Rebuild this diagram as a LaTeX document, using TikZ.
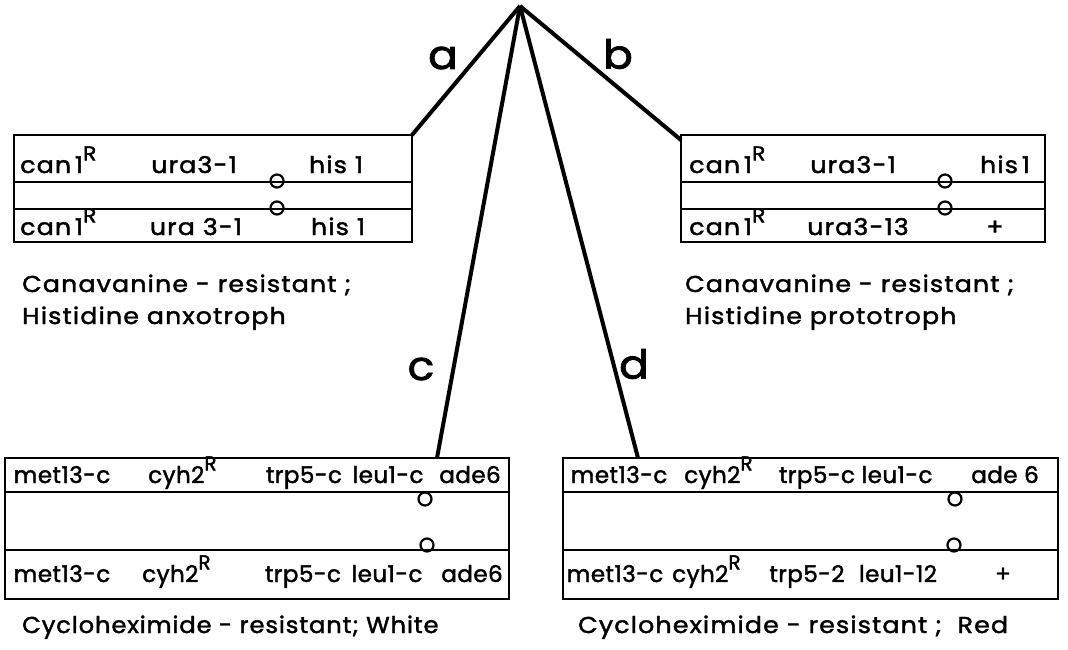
\documentclass[tikz,border=0pt]{standalone}
\usepackage{fontspec}
\setmainfont{Poppins}[FakeBold=1.8,FakeStretch=1.1,LetterSpace=5]
\newfontfamily\narrowfont{Poppins}[FakeBold=1.8,LetterSpace=2]
\newfontfamily\capfont{Poppins}[FakeBold=1.8,FakeStretch=1.05,LetterSpace=4]
\def\resR{\raisebox{0.55em}{\fontsize{20}{20}\selectfont R}}

\begin{document}
\begin{tikzpicture}[x=1pt,y=-1pt,
    chrom/.style={line width=2.3pt},
    arm/.style={line width=4pt},
    cen/.style={line width=2.2pt},
    gene/.style={anchor=base, inner sep=0pt, font=\fontsize{23}{27}\selectfont},
    genew/.style={gene, anchor=base west},
    ngene/.style={gene, font=\narrowfont\fontsize{23}{27}\selectfont},
    ngenew/.style={ngene, anchor=base west},
    caption/.style={anchor=base west, inner sep=0pt, font=\fontsize{23}{27}\selectfont},
    armlabel/.style={inner sep=0pt, font=\fontsize{40}{42}\selectfont}]
		%%%%% START %%%%%
		\useasboundingbox (0,0) rectangle (1068,650);
		
		\coordinate (apex) at (520,6);
		
		% top left: a
		\draw[chrom] (14,135) rectangle (412,242);
		\draw[chrom] (14,182) -- (412,182);
		\draw[chrom] (14,209) -- (412,209);
		\draw[cen] (277,181) circle (6.5pt);
		\draw[cen] (277,208) circle (6.5pt);
		\coordinate (boxa) at (412,135);
		\node[genew] (a1) at (20,173) {can\,1\resR};
		\node[gene] (a2) at (194,173) {ura3-1};
		\node[gene] (a3) at (336,173) {his 1};
		\node[genew] (a4) at (20,235) {can\,1\resR};
		\node[gene] (a5) at (196,235) {ura 3-1};
		\node[gene] (a6) at (338,235) {his 1};
		\node[caption] (capa1) at (22,292) {Canavanine - resistant ;};
		\node[caption] (capa2) at (22,324) {Histidine anxotroph};
		
		% top right: b
		\draw[chrom] (681,135) rectangle (1045,242);
		\draw[chrom] (681,182) -- (1045,182);
		\draw[chrom] (681,209) -- (1045,209);
		\draw[cen] (945,181) circle (6.5pt);
		\draw[cen] (945,208) circle (6.5pt);
		\coordinate (boxb) at (681,140);
		\node[genew] (b1) at (689,173) {can\,1\resR};
		\node[gene] (b2) at (853,173) {ura3-1};
		\node[gene] (b3) at (1005,173) {his\,1};
		\node[genew] (b4) at (689,235) {can\,1\resR};
		\node[gene] (b5) at (858,235) {ura3-13};
		\node[gene] (b6) at (995,235) {+};
		\node[caption] (capb1) at (685,292) {Canavanine - resistant ;};
		\node[caption] (capb2) at (685,324) {Histidine prototroph};
		
		% bottom left: c
		\draw[chrom] (5,458) rectangle (509,599);
		\draw[chrom] (5,492) -- (509,492);
		\draw[chrom] (5,550) -- (509,550);
		\draw[cen] (425,499) circle (6.5pt);
		\draw[cen] (427,545) circle (6.5pt);
		\coordinate (boxc) at (437,458);
		\node[ngene] (c1) at (62,483) {met13-c};
		\node[ngenew] (c2) at (148,483) {cyh2\resR};
		\node[ngene] (c3) at (304,483) {trp5-c};
		\node[ngene] (c4) at (388,483) {leu1-c};
		\node[ngene] (c5) at (470,483) {ade6};
		\node[ngene] (c6) at (62,582) {met13-c};
		\node[ngenew] (c7) at (142,582) {cyh2\resR};
		\node[ngene] (c8) at (303,582) {trp5-c};
		\node[ngene] (c9) at (387,582) {leu1-c};
		\node[ngene] (c10) at (472,582) {ade6};
		\node[caption, font=\capfont\fontsize{23}{27}\selectfont] (capc) at (22,633) {Cycloheximide - resistant;\ White};
		
		% bottom right: d
		\draw[chrom] (563,458) rectangle (1058,599);
		\draw[chrom] (563,492) -- (1058,492);
		\draw[chrom] (563,550) -- (1058,550);
		\draw[cen] (955,499) circle (6.5pt);
		\draw[cen] (954,545) circle (6.5pt);
		\coordinate (boxd) at (638,458);
		\node[ngene] (d1) at (619,483) {met13-c};
		\node[ngenew] (d2) at (684,483) {cyh2\resR};
		\node[ngene] (d3) at (817,483) {trp5-c};
		\node[ngene] (d4) at (897,483) {leu1-c};
		\node[ngene] (d5) at (1005,483) {ade 6};
		\node[ngene] (d6) at (615,582) {met13-c};
		\node[ngenew] (d7) at (672,582) {cyh2\resR};
		\node[ngene] (d8) at (807,582) {trp5-2};
		\node[ngene] (d9) at (898,582) {leu1-12};
		\node[ngene] (d10) at (1003,582) {+};
		\node[caption] (capd) at (578,633) {Cycloheximide - resistant ;\ \ Red};
		
		% arms
		\draw[arm] (apex) -- (boxa);
		\draw[arm] (apex) -- (boxb);
		\draw[arm] (apex) -- (boxc);
		\draw[arm] (apex) -- (boxd);
		\node[armlabel] (la) at (443,58) {a};
		\node[armlabel] (lb) at (618,54) {b};
		\node[armlabel] (lc) at (421,369) {c};
		\node[armlabel] (ld) at (634,364) {d};
		
		%%%%% END %%%%%
\end{tikzpicture}
\end{document}
